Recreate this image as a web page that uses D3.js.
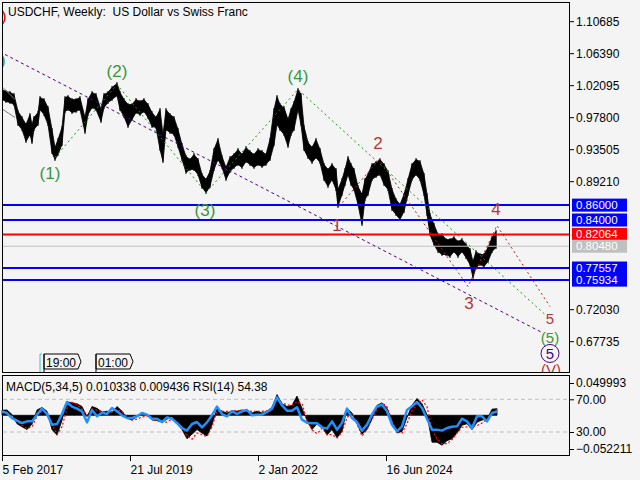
<!DOCTYPE html>
<html>
<head>
<meta charset="utf-8">
<script src="https://cdn.jsdelivr.net/npm/d3@7"></script>
<style>
  body { margin: 0; background: #f4f4f4; }
  svg { display: block; }
  text { font-family: "Liberation Sans", Arial, sans-serif; }
</style>
</head>
<body>
<script>
// weekly USDCHF, week 0 = 5 Feb 2017, sampled highs / lows
const priceWeeks = [0,4,8,12,16,20,24,28,30,32,
  36,38,42,46,50,53,56,60,63,66,
  70,74,78,83,86,90,94,99,102,106,
  110,115,118,122,126,130,134,138,142,146,
  150,154,158,161,164,168,172,176,180,184,
  188,192,196,200,204,208,212,216,220,224,
  228,232,236,240,244,248,252,256,260,264,
  268,272,275,278,282,286,289,292,296,299,
  302,306,310,314,318,322,326,330,334,336,
  340,343,346,349,352,356,360,363,366,370,
  374,378,382,386,390,394,398,402,406,410,
  414,418,422,425,428,432,436,440,444,448,
  452,456,460,464,468,471,474,478,482,486,
  490,494]
const priceHigh = [1.0152,1.0125,1.0112,1.0085,0.9857,0.9776,0.9682,0.9816,0.9682,0.9776,
  0.9843,1.0044,1.0017,0.9910,0.9615,0.9373,0.9481,0.9642,1.0044,1.0058,
  1.0017,1.0017,1.0044,0.9776,1.0017,1.0112,1.0085,0.9883,1.0085,1.0112,
  1.0179,1.0232,1.0112,1.0017,0.9950,0.9950,1.0017,0.9991,1.0017,0.9950,
  0.9843,0.9776,0.9883,0.9548,0.9883,0.9816,0.9776,0.9615,0.9414,0.9253,
  0.9212,0.9279,0.9212,0.9011,0.8944,0.9051,0.9347,0.9481,0.9253,0.9105,
  0.9239,0.9279,0.9347,0.9279,0.9373,0.9320,0.9279,0.9347,0.9320,0.9279,
  0.9481,0.9883,1.0058,0.9950,0.9910,0.9749,0.9883,0.9977,1.0152,1.0085,
  0.9655,0.9440,0.9373,0.9481,0.9347,0.9145,0.9078,0.9145,0.9078,0.8810,
  0.8944,0.9078,0.9239,0.9145,0.9078,0.8850,0.8743,0.8944,0.9011,0.9145,
  0.9172,0.9212,0.9145,0.9051,0.8810,0.8675,0.8608,0.8743,0.8944,0.9145,
  0.9212,0.9185,0.9011,0.8743,0.8474,0.8340,0.8205,0.8205,0.8138,0.8138,
  0.8165,0.8112,0.8138,0.8071,0.8004,0.7843,0.7977,0.7937,0.7937,0.8031,
  0.8165,0.8246]
const priceLow = [1.0017,0.9991,0.9977,0.9950,0.9682,0.9615,0.9454,0.9548,0.9440,0.9615,
  0.9682,0.9883,0.9816,0.9682,0.9306,0.9212,0.9279,0.9414,0.9857,0.9883,
  0.9843,0.9857,0.9883,0.9575,0.9816,0.9910,0.9883,0.9722,0.9910,0.9977,
  1.0017,1.0071,0.9883,0.9789,0.9655,0.9749,0.9843,0.9816,0.9857,0.9776,
  0.9655,0.9642,0.9347,0.9185,0.9615,0.9575,0.9548,0.9387,0.9212,0.9038,
  0.9078,0.9078,0.9011,0.8837,0.8769,0.8850,0.9078,0.9212,0.9105,0.8944,
  0.9051,0.9105,0.9145,0.9105,0.9185,0.9145,0.9105,0.9145,0.9118,0.9145,
  0.9212,0.9414,0.9682,0.9615,0.9548,0.9387,0.9548,0.9615,0.9883,0.9682,
  0.9347,0.9239,0.9172,0.9239,0.9172,0.8944,0.8850,0.8944,0.8810,0.8581,
  0.8743,0.8877,0.9011,0.8877,0.8810,0.8608,0.8340,0.8675,0.8743,0.8944,
  0.8984,0.9011,0.8877,0.8810,0.8541,0.8474,0.8407,0.8514,0.8743,0.8944,
  0.9011,0.8944,0.8743,0.8474,0.8205,0.8071,0.7977,0.7937,0.7937,0.7910,
  0.7977,0.7910,0.7977,0.7897,0.7803,0.7628,0.7763,0.7803,0.7776,0.7843,
  0.7977,0.8031]

// indicator window, one value every 5 weeks
const macdHist = [0.0079,0.0083,0.0011,-0.0131,-0.0179,-0.0221,-0.0136,0.0083,0.0121,0.0064,
  -0.0221,-0.0307,-0.0079,0.0211,0.0193,0.0179,0.0136,-0.0021,0.0136,0.0107,
  0.0050,0.0064,0.0036,0.0136,0.0064,-0.0046,-0.0074,-0.0021,0.0011,0.0011,
  -0.0074,-0.0079,-0.0107,-0.0060,-0.0021,-0.0131,-0.0221,-0.0364,-0.0293,-0.0221,
  -0.0274,-0.0321,-0.0150,0.0107,0.0064,0.0036,0.0069,0.0064,0.0083,0.0064,
  0.0036,0.0064,0.0036,0.0064,0.0121,0.0321,0.0179,0.0136,0.0154,0.0297,
  0.0107,-0.0079,-0.0221,-0.0131,-0.0164,-0.0307,-0.0221,-0.0346,-0.0250,0.0107,
  0.0036,-0.0131,-0.0293,-0.0221,-0.0060,0.0154,0.0193,0.0107,-0.0079,-0.0274,
  -0.0250,-0.0036,0.0154,0.0260,0.0179,0.0011,-0.0417,-0.0417,-0.0464,-0.0393,
  -0.0364,-0.0274,-0.0154,-0.0131,-0.0221,-0.0107,-0.0074,-0.0060,0.0095,0.0103]
const macdSignal = [0.0036,0.0036,-0.0036,-0.0093,-0.0155,-0.0202,-0.0179,-0.0012,0.0060,0.0060,
  -0.0131,-0.0298,-0.0179,0.0107,0.0202,0.0164,0.0098,0.0002,0.0098,0.0079,
  0.0060,0.0050,0.0060,0.0083,0.0060,-0.0026,-0.0074,-0.0060,-0.0026,-0.0012,
  -0.0060,-0.0083,-0.0107,-0.0107,-0.0060,-0.0131,-0.0179,-0.0321,-0.0369,-0.0274,
  -0.0298,-0.0331,-0.0179,0.0069,0.0060,0.0060,0.0060,0.0069,0.0069,0.0069,
  0.0060,0.0060,0.0060,0.0069,0.0107,0.0274,0.0193,0.0164,0.0155,0.0212,
  0.0179,-0.0083,-0.0226,-0.0283,-0.0202,-0.0298,-0.0298,-0.0350,-0.0264,-0.0036,
  0.0036,-0.0131,-0.0321,-0.0226,-0.0060,0.0083,0.0193,0.0131,-0.0083,-0.0250,
  -0.0274,-0.0131,0.0069,0.0164,0.0240,0.0131,-0.0202,-0.0369,-0.0440,-0.0440,
  -0.0379,-0.0274,-0.0188,-0.0179,-0.0179,-0.0160,-0.0121,-0.0060,0.0012,0.0094]
const rsiValues = [55.3,53.2,47.1,43.9,41.0,43.0,43.0,51.2,58.6,52.0,
  39.0,39.8,52.0,66.7,61.0,58.6,55.3,41.8,56.9,49.2,
  53.6,52.0,59.4,55.3,50.4,47.1,47.1,49.2,53.2,51.2,
  46.3,46.3,42.2,47.9,46.3,41.0,34.9,31.7,39.8,42.2,
  35.7,41.8,50.4,61.0,52.0,49.2,55.3,52.0,55.3,56.9,
  50.4,51.2,51.2,54.5,58.6,72.4,62.6,56.1,56.1,60.2,
  45.1,41.4,40.6,40.6,35.7,34.1,43.0,32.9,41.0,58.6,
  47.1,42.2,31.7,39.0,51.2,61.4,63.4,55.3,39.0,30.8,
  36.9,56.9,61.4,66.7,59.4,46.3,32.9,32.9,31.7,34.9,
  36.5,36.9,46.3,43.0,34.9,49.2,49.2,43.0,53.2,55.0]

// horizontal levels
const levelValues = [0.86, 0.84, 0.82064, 0.8048, 0.77557, 0.75934]
const levelColors = ['#0000ff', '#0000ff', '#ff0000', '#c0c0c0', '#0000ff', '#0000ff']

// tick labels
const priceTicks = [1.10685, 1.06390, 1.02095, 0.97800, 0.93505, 0.89210, 0.72030, 0.67735]
const dateWeeks = [0, 128, 256, 384]
const dateLabels = ['5 Feb 2017', '21 Jul 2019', '2 Jan 2022', '16 Jun 2024']

// wave markup
const purpleWeeks = [3, 540]
const purplePrices = [1.0622, 0.6890]
const greenWeeks = [53, 115, 204, 296, 543]
const greenPrices = [0.9240, 1.0219, 0.8769, 1.0152, 0.7132]
const redWeeks = [337, 377, 466, 495, 548]
const redPrices = [0.8581, 0.9212, 0.7508, 0.8326, 0.7239]
const labelTexts = ['(1)', '(2)', '(3)', '(4)', '(5)', '5', '(V)', '1', '2', '3', '4', '5']
const labelWeeks = [48, 115, 203, 296, 548, 548, 549, 335, 376, 467, 494, 548]
const labelPrices = [0.9038, 1.0407, 0.8541, 1.0340, 0.6827, 0.6609, 0.6393, 0.8340, 0.9440, 0.7293, 0.8555, 0.7075]
const labelKinds = ['g', 'g', 'g', 'g', 'g', 'p', 'r', 'r', 'r', 'r', 'r', 'r']
const labelSizes = [17, 17, 17, 17, 15, 15, 15, 17, 17, 17, 17, 15]

const sessionWeeks = [42, 94]
const sessionLabels = ['19:00', '01:00']

const colors = { g: '#3a963a', r: '#b83535', p: '#4b0082' }

const width = 640
const height = 480

const svg = d3.select('body').append('svg')
  .attr('width', width)
  .attr('height', height)

svg.append('rect').attr('width', width).attr('height', height).attr('fill', '#f4f4f4')

const x = d3.scaleLinear().domain([0, 568]).range([2, 570])
const y = d3.scaleLinear().domain([0.67735, 1.10685]).range([341.2, 21.2])
const yMacd = d3.scaleLinear().domain([-0.052211, 0.049993]).range([449, 383])
const yRsi = d3.scaleLinear().domain([30, 70]).range([432, 399.3])

svg.append('clipPath').attr('id', 'main')
  .append('rect').attr('x', 2).attr('y', 2).attr('width', 568).attr('height', 371)

const main = svg.append('g').attr('clip-path', 'url(#main)')

// price bars
const prices = priceWeeks.map((w, i) => ({ w: w, hi: priceHigh[i], lo: priceLow[i] }))
main.append('path')
  .datum(prices)
  .attr('d', d3.area().x(d => x(d.w)).y0(d => y(d.lo)).y1(d => y(d.hi)))
  .attr('fill', '#000')
  .attr('stroke', '#000')
  .attr('stroke-width', 0.8)
  .attr('stroke-linejoin', 'round')
main.selectAll('.bar')
  .data(prices)
  .join('line')
  .attr('x1', d => x(d.w)).attr('x2', d => x(d.w))
  .attr('y1', d => y(d.hi) - 1.5).attr('y2', d => y(d.lo) + 1.5)
  .attr('stroke', '#000').attr('stroke-width', 1)

// levels
main.selectAll('.level')
  .data(levelValues)
  .join('line')
  .attr('x1', 2).attr('x2', 570)
  .attr('y1', d => y(d)).attr('y2', d => y(d))
  .attr('stroke', (d, i) => levelColors[i])
  .attr('stroke-width', (d, i) => levelColors[i] === '#c0c0c0' ? 1 : 2)

// wave lines
const line = d3.line().x(d => x(d[0])).y(d => y(d[1]))
function waveLine(weeks, vals, color, dash) {
  main.append('path')
    .datum(weeks.map((w, i) => [w, vals[i]]))
    .attr('d', line)
    .attr('fill', 'none')
    .attr('stroke', color)
    .attr('stroke-width', 1)
    .attr('stroke-dasharray', dash)
}
waveLine(purpleWeeks, purplePrices, '#4b0082', '3,3')
waveLine(greenWeeks, greenPrices, '#1f8f1f', '2,3')
waveLine(redWeeks, redPrices, '#b22222', '2,3')
waveLine([1, 13], [1.0179, 1.0017], '#808080', null)
waveLine([1, 13], [0.9883, 0.9776], '#808080', null)

// wave labels
main.selectAll('.wave')
  .data(labelTexts)
  .join('text')
  .attr('x', (d, i) => x(labelWeeks[i]))
  .attr('y', (d, i) => y(labelPrices[i]))
  .attr('dy', '0.36em')
  .attr('text-anchor', 'middle')
  .attr('font-size', (d, i) => labelSizes[i])
  .attr('fill', (d, i) => colors[labelKinds[i]])
  .text(d => d)

main.selectAll('.ring')
  .data(labelTexts.filter((d, i) => labelKinds[i] === 'p'))
  .join('circle')
  .attr('cx', x(labelWeeks[5]))
  .attr('cy', y(labelPrices[5]))
  .attr('r', 9)
  .attr('fill', 'none')
  .attr('stroke', colors.p)

// labels cut at left edge
main.append('text').attr('x', 1).attr('y', 22).attr('font-size', 17).attr('fill', '#e00000').text(')')
main.append('text').attr('x', 0).attr('y', 66).attr('font-size', 17).attr('fill', colors.g).text(')')

// session markers
const sess = main.selectAll('.sess').data(sessionLabels).join('g')
  .attr('transform', (d, i) => `translate(${x(sessionWeeks[i])},354)`)
sess.append('path')
  .attr('d', 'M0,0 h34 l3,7.5 l-3,7.5 h-34 z')
  .attr('fill', '#f4f4f4').attr('stroke', '#000')
sess.append('line').attr('x1', 0).attr('x2', 0).attr('y1', 0).attr('y2', 20).attr('stroke', '#000')
sess.append('text').attr('x', 2).attr('y', 12.5).attr('font-size', 12).text(d => d)
main.append('path')
  .attr('d', `M${x(sessionWeeks[0]) - 2},354 h-2 v19 h2`)
  .attr('fill', 'none').attr('stroke', '#40c0c0')

// title
svg.append('text').attr('x', 8).attr('y', 16).attr('font-size', 12)
  .text('USDCHF, Weekly:\u00a0 US Dollar vs Swiss Franc')

// frames
svg.append('rect').attr('x', 2.5).attr('y', 2.5).attr('width', 567).attr('height', 370)
  .attr('fill', 'none').attr('stroke', '#000')
svg.append('rect').attr('x', 2.5).attr('y', 375.5).attr('width', 567).attr('height', 80)
  .attr('fill', 'none').attr('stroke', '#000')

// price axis
const pAxis = svg.append('g').attr('transform', 'translate(570,0)')
  .call(d3.axisRight(y).tickValues(priceTicks).tickSize(4).tickPadding(2).tickFormat(d3.format('.5f')))
pAxis.select('.domain').remove()
pAxis.selectAll('text').attr('font-size', 12).attr('font-family', '"Liberation Sans", Arial, sans-serif').attr('fill', '#000')

// level boxes
const box = svg.selectAll('.box').data(levelValues).join('g')
  .attr('transform', d => `translate(572,${y(d)})`)
box.append('rect').attr('x', 0).attr('y', -6.5).attr('width', 55).attr('height', 13)
  .attr('fill', (d, i) => levelColors[i])
box.append('text').attr('x', 4).attr('dy', '0.34em').attr('font-size', 11.5).attr('fill', '#fff')
  .text(d => d3.format('.5f')(d))

// indicator window
const ind = svg.append('g')
const weeks5 = d3.range(0, 500, 5)
ind.selectAll('.lvl').data([70, 30]).join('line')
  .attr('x1', 3).attr('x2', 569)
  .attr('y1', d => yRsi(d)).attr('y2', d => yRsi(d))
  .attr('stroke', '#c0c0c0').attr('stroke-dasharray', '4,3')

ind.append('path')
  .datum(macdHist)
  .attr('d', d3.area().x((d, i) => x(weeks5[i])).y0(yMacd(0)).y1(d => yMacd(d)))
  .attr('fill', '#000').attr('stroke', '#000').attr('stroke-width', 0.8)

ind.append('path')
  .datum(macdSignal)
  .attr('d', d3.line().x((d, i) => x(weeks5[i])).y(d => yMacd(d)))
  .attr('fill', 'none').attr('stroke', '#ff0000').attr('stroke-width', 1.2).attr('stroke-dasharray', '2,2')

ind.append('path')
  .datum(rsiValues)
  .attr('d', d3.line().x((d, i) => x(weeks5[i])).y(d => yRsi(d)))
  .attr('fill', 'none').attr('stroke', '#1e90ff').attr('stroke-width', 2.5).attr('stroke-linejoin', 'round')

ind.append('text').attr('x', 6).attr('y', 390.5).attr('font-size', 12)
  .text('MACD(5,34,5) 0.010338 0.009436 RSI(14) 54.38')

const rAxis = svg.append('g').attr('transform', 'translate(570,0)')
  .call(d3.axisRight(yRsi).tickValues([70, 30]).tickSize(4).tickPadding(2).tickFormat(d3.format('.2f')))
const mAxis = svg.append('g').attr('transform', 'translate(570,0)')
  .call(d3.axisRight(yMacd).tickValues([0.049993, -0.052211]).tickSize(4).tickPadding(2).tickFormat(d3.format('.6f')))
;[rAxis, mAxis].forEach(a => {
  a.select('.domain').remove()
  a.selectAll('text').attr('font-size', 12).attr('font-family', '"Liberation Sans", Arial, sans-serif').attr('fill', '#000')
})

// date axis
const dAxis = svg.append('g').attr('transform', 'translate(0,456)')
  .call(d3.axisBottom(x).tickValues(dateWeeks).tickSize(5).tickPadding(4).tickFormat((d, i) => dateLabels[i]))
dAxis.select('.domain').remove()
dAxis.selectAll('text').attr('text-anchor', 'start').attr('font-size', 12)
  .attr('font-family', '"Liberation Sans", Arial, sans-serif').attr('fill', '#000')
</script>
</body>
</html>
